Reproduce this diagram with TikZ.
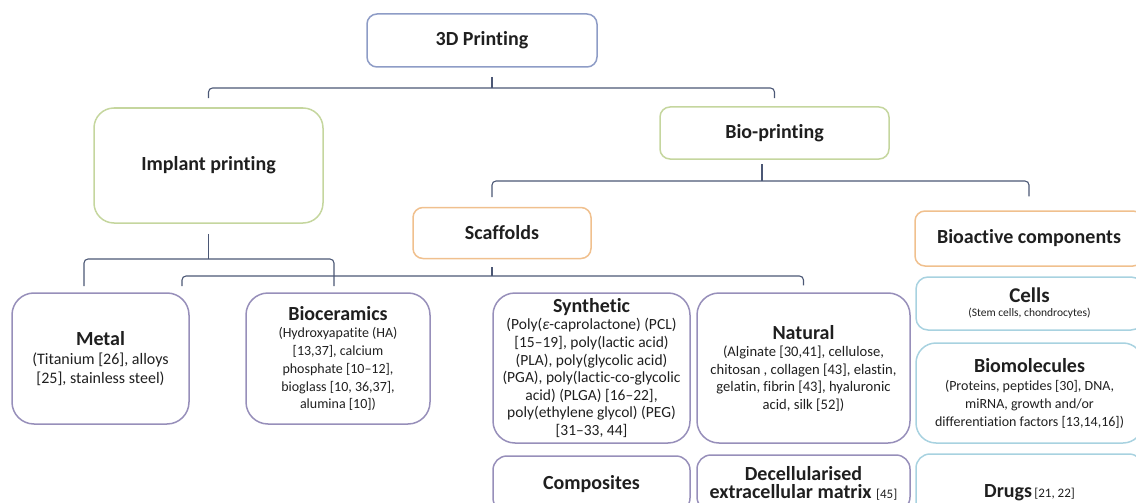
\documentclass[tikz,border=0pt]{standalone}
\usepackage{fontspec}
\setmainfont{Carlito}[Ligatures=NoCommon]
\usepackage{tikz}

\definecolor{rootframe}{HTML}{8E9CC6}
\definecolor{levelframe}{HTML}{C5D69E}
\definecolor{groupframe}{HTML}{F0C08E}
\definecolor{matframe}{HTML}{978FBA}
\definecolor{activeframe}{HTML}{A8D2E0}
\definecolor{branchcolor}{HTML}{4B5775}

\newcommand{\boxhead}[1]{{\fontsize{20}{24}\selectfont\bfseries #1}}
\newcommand{\refsmall}[1]{{\fontsize{13}{15}\selectfont\mdseries #1}}

\tikzset{
  box/.style={draw, line width=1.5pt, align=center, inner sep=2pt, text=black!88},
  rootbox/.style={box, draw=rootframe, rounded corners=10pt},
  levelbox/.style={box, draw=levelframe, rounded corners=10pt},
  groupbox/.style={box, draw=groupframe, rounded corners=10pt},
  matbox/.style={box, draw=matframe, rounded corners=22pt},
  activebox/.style={box, draw=activeframe, rounded corners=14pt},
  branch/.style={draw=branchcolor, line width=1.1pt, rounded corners=4pt},
}

\begin{document}
\begin{tikzpicture}[x=1pt,y=-1pt]
\useasboundingbox (0,0) rectangle (1136,503);
\clip (0,0) rectangle (1136,503);

% top levels
\node[rootbox, minimum width=230pt, minimum height=53pt] (print) at (482,40.5) {\boxhead{3D Printing}};
\node[levelbox, rounded corners=20pt, minimum width=229pt, minimum height=115pt] (impl) at (208.5,165.5) {\boxhead{Implant printing}};
\node[levelbox, minimum width=229pt, minimum height=52pt] (bio) at (774.5,133) {\boxhead{Bio-printing}};
\node[groupbox, minimum width=178pt, minimum height=51pt] (scaf) at (502,233) {\boxhead{Scaffolds}};
\node[groupbox, minimum width=228pt, minimum height=55pt] (bact) at (1029,238.5) {\boxhead{Bioactive components}};

% materials
\node[matbox, minimum width=177pt, minimum height=131pt, font=\fontsize{16}{19}\selectfont] (metal) at (100.5,358.5)
  {\boxhead{Metal}\\(Titanium [26], alloys\\{}[25], stainless steel)};
\node[matbox, minimum width=184pt, minimum height=131pt, font=\fontsize{14}{17.7}\selectfont] (cer) at (338,358.5)
  {\boxhead{Bioceramics}\\(Hydroxyapatite (HA)\\{}[13,37], calcium\\phosphate [10–12],\\bioglass [10, 36,37],\\alumina [10])};
\node[matbox, minimum width=197pt, minimum height=150pt, font=\fontsize{15.5}{17.6}\selectfont] (syn) at (591.5,368)
  {\boxhead{Synthetic}\\(Poly(\textit{ε}-caprolactone) (PCL)\\{}[15–19], poly(lactic acid)\\(PLA), poly(glycolic acid)\\(PGA), poly(lactic-co-glycolic\\acid) (PLGA) [16–22],\\poly(ethylene glycol) (PEG)\\{}[31–33, 44]};
\node[matbox, minimum width=213pt, minimum height=150pt, font=\fontsize{14.6}{17.5}\selectfont] (nat) at (803.5,368)
  {\boxhead{Natural}\\(Alginate [30,41], cellulose,\\chitosan , collagen [43], elastin,\\gelatin, fibrin [43], hyaluronic\\acid, silk [52])};
\node[matbox, rounded corners=14pt, minimum width=197pt, minimum height=56pt] (comp) at (591.5,484) {\boxhead{Composites}};
\node[matbox, rounded corners=14pt, minimum width=213pt, minimum height=56pt, font=\fontsize{20}{18}\selectfont\bfseries] (dec) at (803.5,483)
  {Decellularised\\extracellular matrix \refsmall{[45]}};

% bioactive components
\node[activebox, rounded corners=12pt, minimum width=227pt, minimum height=53pt, font=\fontsize{11.5}{14}\selectfont] (cell) at (1029.5,303.5)
  {{\fontsize{21}{24}\selectfont\bfseries Cells}\\(Stem cells, chondrocytes)};
\node[activebox, rounded corners=20pt, minimum width=227pt, minimum height=100pt, font=\fontsize{14}{18}\selectfont] (biomol) at (1029.5,393)
  {\boxhead{Biomolecules}\\(Proteins, peptides [30], DNA,\\miRNA, growth and/or\\differentiation factors [13,14,16])};
\node[activebox, minimum width=227pt, minimum height=78pt] (drug) at (1029.5,493) {\boxhead{Drugs} \refsmall{[21, 22]}};

% brackets
\coordinate (b1t) at (492,77);
\coordinate (b1m) at (492,88);
\draw[branch] (b1t) -- (b1m);
\draw[branch] ([yshift=9pt]impl.north) |- (b1m) -| ([yshift=8pt]bio.north);

\coordinate (b2t) at (762,164);
\coordinate (b2m) at (762,181);
\coordinate (b2l) at (492,197);
\draw[branch] (b2t) -- (b2m);
\draw[branch] (b2l) |- (b2m) -| ([yshift=14pt]bact.north);

\coordinate (b3m) at (208.5,259);
\coordinate (b3l) at (84,286);
\coordinate (b3r) at (334,286);
\draw[branch] ([yshift=-10pt]impl.south) -- (b3m);
\draw[branch] (b3l) |- (b3m) -| (b3r);

\coordinate (b4t) at (492,267);
\coordinate (b4m) at (492,276);
\coordinate (b4l) at (182,286);
\draw[branch] (b4t) -- (b4m);
\draw[branch] (b4l) |- (b4m) -| ([yshift=7pt]nat.north);
\end{tikzpicture}
\end{document}
